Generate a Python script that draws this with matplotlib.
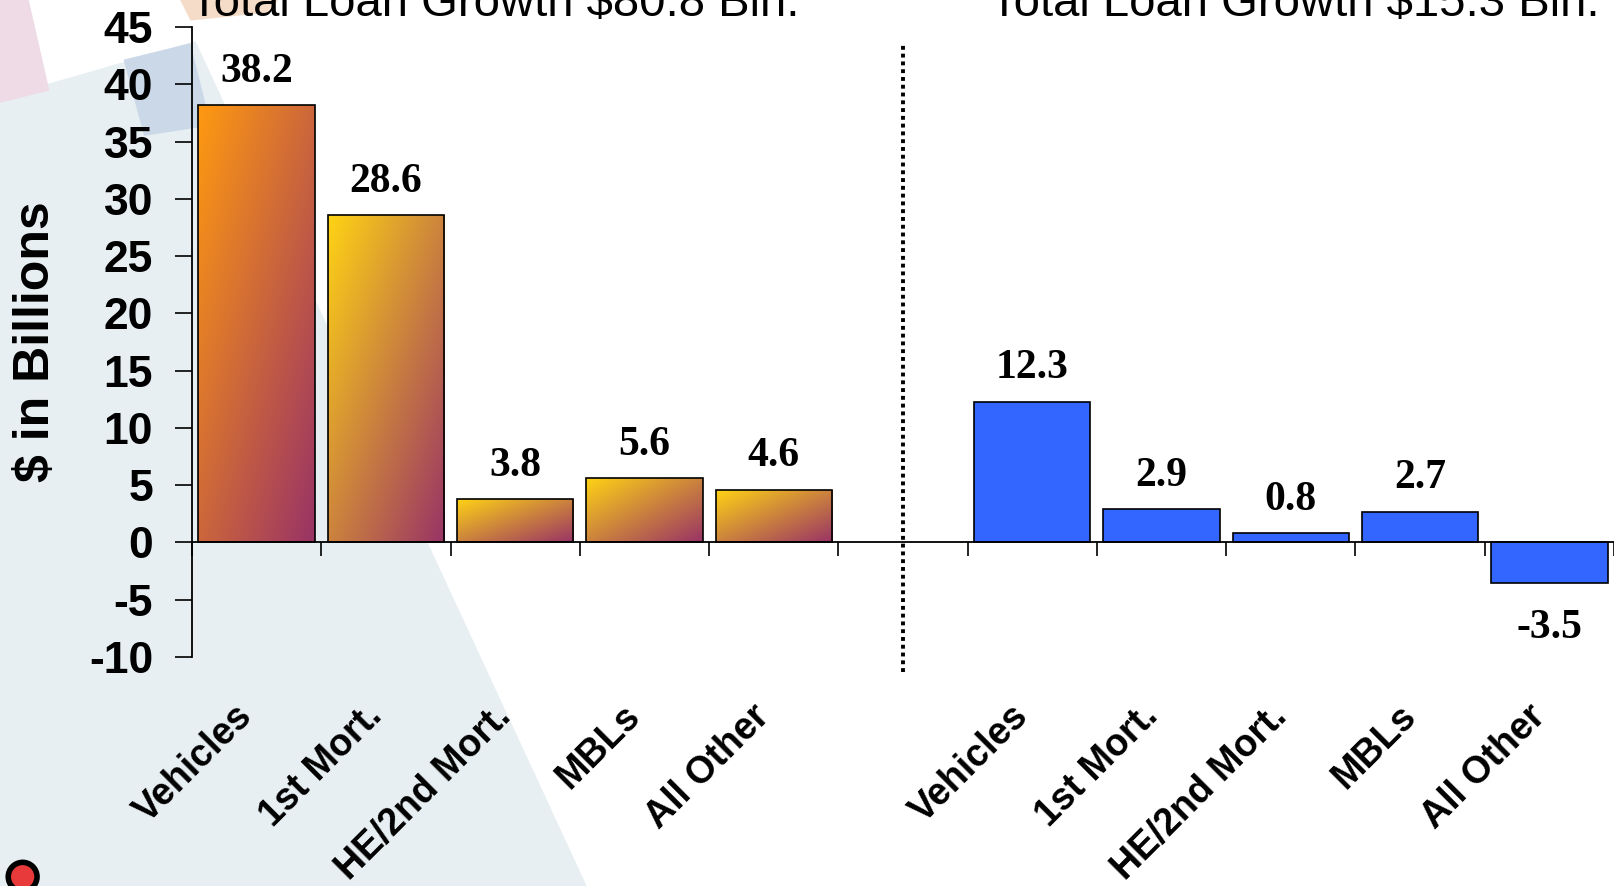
import numpy as np
import matplotlib
matplotlib.use("Agg")
import matplotlib.pyplot as plt
import matplotlib.transforms as mtransforms
from matplotlib.colors import to_rgb
from matplotlib.patches import Polygon, Circle

# data
categories = ["Vehicles", "1st Mort.", "HE/2nd Mort.", "MBLs", "All Other"]
left_vals = [38.2, 28.6, 3.8, 5.6, 4.6]
right_vals = [12.3, 2.9, 0.8, 2.7, -3.5]
left_title = "Total Loan Growth $80.8 Bln."
right_title = "Total Loan Growth $15.3 Bln."
yticks = [-10, -5, 0, 5, 10, 15, 20, 25, 30, 35, 40, 45]

W, H = 1614, 886
fig = plt.figure(figsize=(W / 100, H / 100), dpi=100, facecolor="white")

# background template shapes, in a full-figure axes behind everything
bg = fig.add_axes([0, 0, 1, 1], zorder=-1)
bg.set_xlim(0, 1568)
bg.set_ylim(861, 0)
bg.axis("off")
bg.add_patch(Polygon([(0, 95), (190, 40), (570, 861), (0, 861)], facecolor="#e8eff2", edgecolor="none"))
bg.add_patch(Polygon([(0, 0), (28, 0), (48, 88), (0, 100)], facecolor="#eedbe5", edgecolor="none"))
bg.add_patch(Polygon([(120, 58), (185, 42), (205, 122), (140, 132)], facecolor="#cbd8e8", edgecolor="none"))
bg.add_patch(Polygon([(175, 0), (270, 0), (262, 12), (185, 20)], facecolor="#f4dcc8", edgecolor="none"))
bg.add_patch(Circle((22, 852), 14, facecolor="#e83a3a", edgecolor="black", lw=4))

ax = fig.add_axes([192 / W, 1 - 657 / H, 1 - 192 / W, 630 / H])
ax.set_facecolor("none")

labels = categories + [""] + categories
x_left = np.arange(5)
x_right = np.arange(6, 11)
bw = 0.9


def grad_img(c0, c1, n=200):
    u = np.linspace(0, 1, n)
    U, V = np.meshgrid(u, u)
    t = (U + V) / 2
    a, b = np.array(to_rgb(c0)), np.array(to_rgb(c1))
    return a + t[..., None] * (b - a)


starts = ["#ff9a10", "#ffd414", "#ffd414", "#ffd414", "#ffd414"]
bars_l = ax.bar(x_left, left_vals, width=bw, facecolor="none",
                edgecolor="black", linewidth=1.2, zorder=3)
for b, xx, v, c0 in zip(bars_l, x_left, left_vals, starts):
    im = ax.imshow(grad_img(c0, "#993366"), extent=(xx - bw / 2, xx + bw / 2, 0, v),
                   aspect="auto", interpolation="bilinear", zorder=2)
    im.set_clip_path(b)

ax.bar(x_right, right_vals, width=bw, color="#3366ff",
       edgecolor="black", linewidth=1.2, zorder=3)

# value labels
for xx, v in list(zip(x_left, left_vals)) + list(zip(x_right, right_vals)):
    off = 24 if v >= 0 else -33
    ax.annotate(f"{v}", (xx, v), xytext=(0, off), textcoords="offset points",
                ha="center", va="center", fontsize=30, fontweight="bold",
                family="Liberation Serif")

ax.set_xlim(-0.5, 10.5)
ax.set_ylim(-10, 45)

# divider
ax.plot([5, 5], [-11.3, 43.6], color="black", lw=2.8, ls=(0, (1, 1)),
        clip_on=False, zorder=4)

for s in ["top", "right"]:
    ax.spines[s].set_visible(False)
ax.spines["bottom"].set_position(("data", 0))
ax.spines["bottom"].set_linewidth(1.3)
ax.spines["left"].set_linewidth(1.3)
ax.spines["bottom"].set_zorder(5)

ax.set_yticks(yticks)
ax.set_yticklabels([str(t) for t in yticks], fontsize=32, fontweight="bold",
                   family="Liberation Sans")
ax.tick_params(axis="y", direction="out", length=12, width=1.2, pad=16)

# category ticks at slot boundaries, labels drawn as rotated text
ax.set_xticks([])
ax.set_xticks(np.arange(-0.5, 11, 1), minor=True)
ax.tick_params(axis="x", which="minor", direction="out", length=10, width=1.2)
shift = mtransforms.ScaledTranslation(-16 / 72, -112 / 72, fig.dpi_scale_trans)
trans = mtransforms.blended_transform_factory(ax.transData, ax.transData) + shift
for i, lab in enumerate(labels):
    if lab:
        ax.text(i, 0, lab, transform=trans, rotation=45, ha="right", va="top",
                rotation_mode="anchor", fontsize=27, fontweight="bold",
                family="Liberation Sans", clip_on=False)

fig.text(36 / W, 1 - 342 / H, "$ in Billions", rotation=90, ha="center", va="center",
         fontsize=36, fontweight="bold", family="Liberation Sans")

fig.text(190 / W, 1 - 16 / H, left_title, ha="left", va="baseline",
         fontsize=34, family="Liberation Sans")
fig.text(990 / W, 1 - 16 / H, right_title, ha="left", va="baseline",
         fontsize=34, family="Liberation Sans")

fig.savefig("out.png", dpi=100, facecolor="white")
